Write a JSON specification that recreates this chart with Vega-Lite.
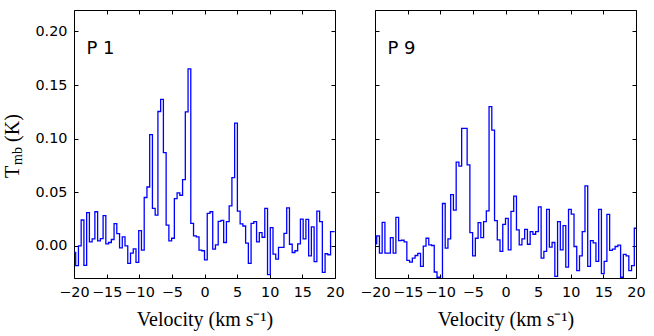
{
  "$schema": "https://vega.github.io/schema/vega-lite/v6.json",
  "padding": {"left": 1, "top": 9, "right": 5, "bottom": 2},
  "datasets": {
    "p1": [
      {"v": -19.95, "t": -0.0062}, {"v": -19.53, "t": -0.0185}, {"v": -19.11, "t": 0.0}, {"v": -18.69, "t": 0.0241},
      {"v": -18.27, "t": -0.0182}, {"v": -17.85, "t": 0.0309}, {"v": -17.43, "t": 0.0037}, {"v": -17.01, "t": 0.0065},
      {"v": -16.59, "t": 0.0318}, {"v": -16.17, "t": 0.0046}, {"v": -15.75, "t": 0.0068}, {"v": -15.33, "t": 0.0281},
      {"v": -14.91, "t": 0.0019}, {"v": -14.49, "t": 0.0031}, {"v": -14.07, "t": 0.0059}, {"v": -13.65, "t": 0.0207},
      {"v": -13.23, "t": 0.0114}, {"v": -12.81, "t": -0.0019}, {"v": -12.39, "t": 0.0083}, {"v": -11.97, "t": 0.0},
      {"v": -11.55, "t": -0.0164}, {"v": -11.13, "t": -0.0068}, {"v": -10.71, "t": -0.0028}, {"v": -10.29, "t": -0.0154},
      {"v": -9.87, "t": 0.0142}, {"v": -9.45, "t": -0.004}, {"v": -9.03, "t": 0.0451}, {"v": -8.61, "t": 0.0549},
      {"v": -8.19, "t": 0.1037}, {"v": -7.77, "t": 0.0349}, {"v": -7.35, "t": 0.0287}, {"v": -6.93, "t": 0.1253},
      {"v": -6.51, "t": 0.1367}, {"v": -6.09, "t": 0.087}, {"v": -5.67, "t": 0.0194}, {"v": -5.25, "t": 0.0046},
      {"v": -4.83, "t": 0.0071}, {"v": -4.41, "t": 0.0441}, {"v": -3.99, "t": 0.0494}, {"v": -3.57, "t": 0.0472},
      {"v": -3.15, "t": 0.0617}, {"v": -2.73, "t": 0.125}, {"v": -2.31, "t": 0.1651}, {"v": -1.89, "t": 0.021},
      {"v": -1.47, "t": 0.0093}, {"v": -1.05, "t": 0.0083}, {"v": -0.63, "t": -0.004}, {"v": -0.21, "t": -0.0046},
      {"v": 0.21, "t": -0.013}, {"v": 0.63, "t": 0.0302}, {"v": 1.05, "t": 0.0318}, {"v": 1.47, "t": -0.0031},
      {"v": 1.89, "t": 0.0009}, {"v": 2.31, "t": 0.0228}, {"v": 2.73, "t": 0.0238}, {"v": 3.15, "t": 0.0031},
      {"v": 3.57, "t": 0.0225}, {"v": 3.99, "t": 0.0373}, {"v": 4.41, "t": 0.0636}, {"v": 4.83, "t": 0.1145},
      {"v": 5.25, "t": 0.0324}, {"v": 5.67, "t": 0.0204}, {"v": 6.09, "t": 0.0185}, {"v": 6.51, "t": 0.0025},
      {"v": 6.93, "t": -0.0164}, {"v": 7.35, "t": 0.021}, {"v": 7.77, "t": 0.0225}, {"v": 8.19, "t": 0.0037},
      {"v": 8.61, "t": 0.0123}, {"v": 9.03, "t": 0.008}, {"v": 9.45, "t": 0.0349}, {"v": 9.87, "t": -0.0269},
      {"v": 10.29, "t": 0.017}, {"v": 10.71, "t": -0.0077}, {"v": 11.13, "t": -0.0123}, {"v": 11.55, "t": -0.0015},
      {"v": 11.97, "t": -0.0015}, {"v": 12.39, "t": 0.0117}, {"v": 12.81, "t": 0.0355}, {"v": 13.23, "t": 0.0015},
      {"v": 13.65, "t": -0.0062}, {"v": 14.07, "t": -0.0046}, {"v": 14.49, "t": 0.0019}, {"v": 14.91, "t": 0.025},
      {"v": 15.33, "t": 0.0065}, {"v": 15.75, "t": 0.0247}, {"v": 16.17, "t": -0.0093}, {"v": 16.59, "t": 0.0176},
      {"v": 17.01, "t": -0.0148}, {"v": 17.43, "t": 0.0324}, {"v": 17.85, "t": 0.0225}, {"v": 18.27, "t": -0.0247},
      {"v": 18.69, "t": -0.0074}, {"v": 19.11, "t": -0.0083}, {"v": 19.53, "t": 0.0133}, {"v": 19.95, "t": 0.0133}
    ],
    "p9": [
      {"v": -19.95, "t": 0.0019}, {"v": -19.53, "t": 0.0093}, {"v": -19.11, "t": -0.0068}, {"v": -18.69, "t": 0.0219},
      {"v": -18.27, "t": -0.0068}, {"v": -17.85, "t": -0.0068}, {"v": -17.43, "t": 0.0077}, {"v": -17.01, "t": -0.0068},
      {"v": -16.59, "t": 0.0265}, {"v": -16.17, "t": 0.0049}, {"v": -15.75, "t": 0.0052}, {"v": -15.33, "t": 0.0037},
      {"v": -14.91, "t": -0.0136}, {"v": -14.49, "t": -0.0151}, {"v": -14.07, "t": -0.0114}, {"v": -13.65, "t": -0.009},
      {"v": -13.23, "t": -0.0071}, {"v": -12.81, "t": -0.0191}, {"v": -12.39, "t": -0.0003}, {"v": -11.97, "t": 0.0071},
      {"v": -11.55, "t": 0.0009}, {"v": -11.13, "t": 0.0003}, {"v": -10.71, "t": -0.0244}, {"v": -10.29, "t": -0.0293},
      {"v": -9.87, "t": -0.036}, {"v": -9.45, "t": 0.0395}, {"v": -9.03, "t": -0.0022}, {"v": -8.61, "t": 0.0065},
      {"v": -8.19, "t": 0.0478}, {"v": -7.77, "t": 0.0333}, {"v": -7.35, "t": 0.0781}, {"v": -6.93, "t": 0.0744},
      {"v": -6.51, "t": 0.1096}, {"v": -6.09, "t": 0.1096}, {"v": -5.67, "t": 0.0756}, {"v": -5.25, "t": 0.0123},
      {"v": -4.83, "t": -0.0093}, {"v": -4.41, "t": 0.0071}, {"v": -3.99, "t": 0.0216}, {"v": -3.57, "t": 0.0077},
      {"v": -3.15, "t": 0.0225}, {"v": -2.73, "t": 0.0327}, {"v": -2.31, "t": 0.1299}, {"v": -1.89, "t": 0.108},
      {"v": -1.47, "t": 0.0235}, {"v": -1.05, "t": 0.0056}, {"v": -0.63, "t": -0.0052}, {"v": -0.21, "t": 0.0201},
      {"v": 0.21, "t": 0.0256}, {"v": 0.63, "t": -0.0037}, {"v": 1.05, "t": 0.0321}, {"v": 1.47, "t": 0.0463},
      {"v": 1.89, "t": 0.0148}, {"v": 2.31, "t": 0.0009}, {"v": 2.73, "t": 0.0065}, {"v": 3.15, "t": 0.0154},
      {"v": 3.57, "t": 0.0015}, {"v": 3.99, "t": 0.0133}, {"v": 4.41, "t": 0.0108}, {"v": 4.83, "t": 0.0133},
      {"v": 5.25, "t": 0.0364}, {"v": 5.67, "t": -0.0114}, {"v": 6.09, "t": -0.0052}, {"v": 6.51, "t": 0.034},
      {"v": 6.93, "t": -0.0012}, {"v": 7.35, "t": 0.0031}, {"v": 7.77, "t": -0.0284}, {"v": 8.19, "t": 0.0225},
      {"v": 8.61, "t": -0.0037}, {"v": 9.03, "t": 0.0188}, {"v": 9.45, "t": -0.0198}, {"v": 9.87, "t": 0.034},
      {"v": 10.29, "t": 0.0296}, {"v": 10.71, "t": -0.0006}, {"v": 11.13, "t": -0.0231}, {"v": 11.55, "t": -0.0093},
      {"v": 11.97, "t": 0.0133}, {"v": 12.39, "t": 0.0559}, {"v": 12.81, "t": -0.0191}, {"v": 13.23, "t": 0.0049},
      {"v": 13.65, "t": 0.0028}, {"v": 14.07, "t": -0.0145}, {"v": 14.49, "t": 0.034}, {"v": 14.91, "t": -0.0259},
      {"v": 15.33, "t": -0.0145}, {"v": 15.75, "t": 0.0293}, {"v": 16.17, "t": -0.0043}, {"v": 16.59, "t": -0.0031},
      {"v": 17.01, "t": -0.0006}, {"v": 17.43, "t": 0.0006}, {"v": 17.85, "t": -0.0293}, {"v": 18.27, "t": -0.008},
      {"v": 18.69, "t": -0.0093}, {"v": 19.11, "t": -0.0231}, {"v": 19.53, "t": -0.0185}, {"v": 19.95, "t": 0.0164},
      {"v": 20.37, "t": 0.0164}
    ]
  },
  "spacing": 14,
  "hconcat": [
    {
      "width": 261,
      "height": 268,
      "layer": [
        {
          "data": {"name": "p1"},
          "mark": {"type": "line", "interpolate": "step", "color": "#0000ff", "strokeWidth": 1.3, "clip": true},
          "encoding": {
            "x": {"field": "v", "type": "quantitative", "scale": {"domain": [-20, 20], "nice": false, "zero": false},
              "axis": {"orient": "bottom", "values": [-20, -15, -10, -5, 0, 5, 10, 15, 20], "labelExpr": "replace(datum.label, '-', '−')", "labelFlush": false, "labelOverlap": false, "title": "Velocity (km s⁻¹)", "titlePadding": 11}},
            "y": {"field": "t", "type": "quantitative", "scale": {"domain": [-0.03, 0.22], "nice": false, "zero": false},
              "axis": {"orient": "left", "values": [0, 0.05, 0.1, 0.15, 0.2], "format": ".2f", "labelOverlap": false, "labelFlush": false, "title": "T", "titleX": -55.7, "titleY": 161.5, "titleAlign": "center", "titleBaseline": "alphabetic", "titleAngle": -90}}
          }
        },
        {
          "data": {"values": [{"label": "P 1"}]},
          "mark": {"type": "text", "align": "left", "baseline": "alphabetic", "font": "DejaVu Sans", "fontSize": 18, "color": "black"},
          "encoding": {
            "x": {"datum": -18.1, "type": "quantitative", "axis": {"orient": "top", "values": [-20, -15, -10, -5, 0, 5, 10, 15, 20], "labels": false, "title": null}},
            "y": {"datum": 0.1793, "type": "quantitative", "axis": {"orient": "right", "values": [0, 0.05, 0.1, 0.15, 0.2], "labels": false, "title": null}},
            "text": {"field": "label"}
          }
        },
        {
          "data": {"values": [{"label": ""}]},
          "mark": {"type": "text"},
          "encoding": {
            "x": {"datum": 0, "type": "quantitative", "axis": null},
            "y": {"datum": 0, "type": "quantitative", "axis": {"orient": "left", "labels": false, "ticks": false, "domain": false, "title": "mb", "titleFontSize": 14, "titleX": -52.8, "titleY": 145.5, "titleAlign": "center", "titleBaseline": "alphabetic", "titleAngle": -90}},
            "text": {"field": "label"}
          }
        },
        {
          "data": {"values": [{"label": ""}]},
          "mark": {"type": "text"},
          "encoding": {
            "x": {"datum": 0, "type": "quantitative", "axis": null},
            "y": {"datum": 0, "type": "quantitative", "axis": {"orient": "left", "labels": false, "ticks": false, "domain": false, "title": "(K)", "titleX": -55.7, "titleY": 117.5, "titleAlign": "center", "titleBaseline": "alphabetic", "titleAngle": -90}},
            "text": {"field": "label"}
          }
        }
      ],
      "resolve": {"axis": {"x": "independent", "y": "independent"}}
    },
    {
      "width": 261,
      "height": 268,
      "layer": [
        {
          "data": {"name": "p9"},
          "mark": {"type": "line", "interpolate": "step", "color": "#0000ff", "strokeWidth": 1.3, "clip": true},
          "encoding": {
            "x": {"field": "v", "type": "quantitative", "scale": {"domain": [-20, 20], "nice": false, "zero": false},
              "axis": {"orient": "bottom", "values": [-20, -15, -10, -5, 0, 5, 10, 15, 20], "labelExpr": "replace(datum.label, '-', '−')", "labelFlush": false, "labelOverlap": false, "title": "Velocity (km s⁻¹)", "titlePadding": 11}},
            "y": {"field": "t", "type": "quantitative", "scale": {"domain": [-0.03, 0.22], "nice": false, "zero": false},
              "axis": {"orient": "left", "values": [0, 0.05, 0.1, 0.15, 0.2], "labels": false, "title": null}}
          }
        },
        {
          "data": {"values": [{"label": "P 9"}]},
          "mark": {"type": "text", "align": "left", "baseline": "alphabetic", "font": "DejaVu Sans", "fontSize": 18, "color": "black"},
          "encoding": {
            "x": {"datum": -18.1, "type": "quantitative", "axis": {"orient": "top", "values": [-20, -15, -10, -5, 0, 5, 10, 15, 20], "labels": false, "title": null}},
            "y": {"datum": 0.1793, "type": "quantitative", "axis": {"orient": "right", "values": [0, 0.05, 0.1, 0.15, 0.2], "labels": false, "title": null}},
            "text": {"field": "label"}
          }
        }
      ],
      "resolve": {"axis": {"x": "independent", "y": "independent"}}
    }
  ],
  "config": {
    "view": {"stroke": "black", "strokeWidth": 1},
    "axis": {
      "grid": false, "domain": false, "tickColor": "black", "tickWidth": 1, "tickSize": -4,
      "labelColor": "black", "labelFont": "DejaVu Sans", "labelFontSize": 14.4, "labelPadding": 11,
      "titleColor": "black", "titleFont": "Liberation Serif", "titleFontWeight": "normal", "titleFontSize": 20
    }
  }
}
